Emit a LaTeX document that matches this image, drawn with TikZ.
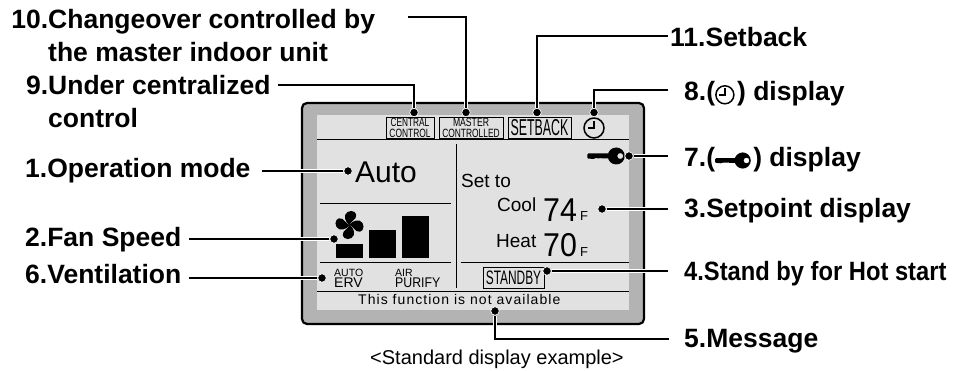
\documentclass[tikz,border=0pt]{standalone}
\usepackage{fontspec}
\setmainfont{Liberation Sans}
\definecolor{panelgrey}{HTML}{B3B3B3}
\definecolor{lcdgrey}{HTML}{E1E1E1}
\tikzset{
	lead/.style={line width=2.4pt, preaction={draw=white, line width=4pt}},
	leaddot/.style={circle, fill=black, draw=white, line width=0.7pt, minimum size=8.5pt, inner sep=0pt},
	lcdline/.style={line width=1pt},
	lcdbox/.style={draw, line width=0.9pt, inner sep=0pt, minimum height=21pt},
	smallbox/.style={lcdbox, align=center, font=\fontsize{12}{11}\selectfont},
	callout/.style={anchor=base west, inner sep=0pt, font=\fontsize{26.5}{33}\selectfont\bfseries},
	calloutwrap/.style={callout, anchor=north west, align=left},
	lcdtext/.style={anchor=base west, inner sep=0pt}
}
\newcommand{\myclockicon}[1]{%
	\tikz[x=1pt, y=-1pt, baseline=-6.2pt, scale=#1]{
		\draw [line width=1.5pt] (0,0) circle (10);
		\draw [line width=1.7pt] (-6,0) -- (0,0) -- (0,-7);
	}%
}
\newcommand{\mykeyicon}[1]{%
	\tikz[x=1pt, y=-1pt, baseline=-6.5pt, scale=#1]{
		\fill [rounded corners=1pt] (0,-2.5) -- (24,-2.5) -- (24,2.5) -- (14,2.5) -- (13,1.5) -- (11,3) -- (9,1.5) -- (7,3) -- (0,2.5) -- cycle;
		\fill [even odd rule] (29,0) circle (8.5) (33,0) circle (3);
	}%
}
\begin{document}
\begin{tikzpicture}[x=1pt, y=-1pt]
	\newcommand{\myfontlcd}[1]{\fontsize{#1}{#1}\selectfont
	}%Page
	\useasboundingbox (0,0) rectangle (953,371);
	%Outer panel and screen
	\draw [line width=2.2pt, rounded corners=5pt, fill=panelgrey] (302,103) rectangle (644,324);
	\fill [lcdgrey] (317,115) rectangle (629,310);
	%Lines of the screen
	\draw [lcdline] (317,140) -- (629,140);
	\draw [lcdline] (317,292) -- (629,292);
	\draw [lcdline] (456,144) -- (456,288);
	\draw [lcdline] (320,204) -- (451,204);
	\draw [lcdline] (320,263) -- (451,263);
	\draw [lcdline] (461,263) -- (629,263);
	%Top row
	\node [smallbox, minimum width=48pt] (boxCentral) at (410,127.5) {\scalebox{0.69}[1]{CENTRAL}\\\scalebox{0.7}[1]{CONTROL}};
	\node [smallbox, minimum width=64pt] (boxMaster) at (471,127.5) {\scalebox{0.72}[1]{MASTER}\\\scalebox{0.7}[1]{CONTROLLED}};
	\node [lcdbox, minimum width=63pt] (boxSetback) at (539.5,127.5) {\myfontlcd{23}\scalebox{0.54}[1]{SETBACK}};
	\node [inner sep=0pt] (iconClock) at (594,128) {\myclockicon{1}};
	\node [inner sep=0pt] (iconKey) at (606,156) {\mykeyicon{1}};
	%Left half
	\node [lcdtext] (textAuto) at (355,183) {\myfontlcd{30}Auto};
	\fill (336,244) rectangle (363,258);
	\fill (369,230) rectangle (396,258);
	\fill (402,216) rectangle (429,258);
	%Fan blades
	\foreach \angle in {0,90,180,270} {
		\fill [rotate around={\angle:(349.5,225)}, shift={(349.5,225)}] (0,0) .. controls (-4,-2) and (-7,-10) .. (-2,-13) .. controls (3,-16) and (9,-12) .. (6,-7) .. controls (5,-5) and (2,-4) .. (0,0);
	}
	\node [lcdtext] (textAuto2) at (334,276.5) {\myfontlcd{10.5}AUTO};
	\node [lcdtext] (textErv) at (334,288) {\myfontlcd{14}ERV};
	\node [lcdtext] (textAir) at (395,276.5) {\myfontlcd{10.5}AIR};
	\node [lcdtext] (textPurify) at (395,288) {\myfontlcd{14}\scalebox{0.88}[1]{PURIFY}};
	%Right half
	\node [lcdtext] (textSetTo) at (461,188) {\myfontlcd{19}Set to};
	\node [lcdtext] (textCool) at (497,212) {\myfontlcd{19}Cool};
	\node [lcdtext] (textCoolVal) at (543,222) {\myfontlcd{33}\scalebox{0.92}[1]{74}};
	\node [lcdtext] (textCoolUnit) at (580,221) {\myfontlcd{13}F};
	\node [lcdtext] (textHeat) at (496,248) {\myfontlcd{19}Heat};
	\node [lcdtext] (textHeatVal) at (543,257) {\myfontlcd{33}\scalebox{0.92}[1]{70}};
	\node [lcdtext] (textHeatUnit) at (580,257) {\myfontlcd{13}F};
	\node [lcdbox, minimum width=61pt] (boxStandby) at (513.5,277.5) {\myfontlcd{19.5}\scalebox{0.61}[1]{STANDBY}};
	%Message row and caption
	\node [lcdtext] (textMessage) at (358,305) {\myfontlcd{14}\addfontfeatures{LetterSpace=7.5}This function is not available};
	\node [lcdtext] (textCaption) at (370,364) {\myfontlcd{20}<Standard display example>};
	%Callout texts on the left
	\node [calloutwrap] (labelMaster) at (48,9) {\llap{10.}Changeover controlled by\\the master indoor unit};
	\node [calloutwrap] (labelCentral) at (48,75) {\llap{9.}Under centralized\\control};
	\node [callout] (labelMode) at (25,178) {1.Operation mode};
	\node [callout] (labelFan) at (25,247) {2.Fan Speed};
	\node [callout] (labelVent) at (25,284) {6.Ventilation};
	%Callout texts on the right
	\node [callout] (labelSetback) at (670,47) {11.Setback};
	\node [callout] (labelClock) at (684,101) {8.(\myclockicon{0.9}\hspace{2.5pt}) display};
	\node [callout] (labelKey) at (684,167) {7.(\mykeyicon{0.95}\hspace{2.5pt}) display};
	\node [callout] (labelSetpoint) at (684,218) {3.Setpoint display};
	\node [callout] (labelStandby) at (684,281) {\scalebox{0.895}[1]{4.Stand by for Hot start}};
	\node [callout] (labelMessage) at (684,347) {5.Message};
	%Dots at the end of the leads
	\node [leaddot] (dotCentral) at (414,112.5) {};
	\node [leaddot] (dotMaster) at (466,112.5) {};
	\node [leaddot] (dotSetback) at (537,112.5) {};
	\node [leaddot] (dotClock) at (594,112.5) {};
	\node [leaddot] (dotKey) at (629,156) {};
	\node [leaddot] (dotMode) at (348,171) {};
	\node [leaddot] (dotSetpoint) at (602,209) {};
	\node [leaddot] (dotStandby) at (547,271) {};
	\node [leaddot] (dotMessage) at (495,311) {};
	\node [leaddot] (dotFan) at (334,239) {};
	\node [leaddot] (dotVent) at (322,278) {};
	%Free ends of the leads
	\coordinate (startMaster) at (408,17);
	\coordinate (startSetback) at (668,36);
	\coordinate (startCentral) at (278,85);
	\coordinate (startClock) at (668,90);
	\coordinate (startKey) at (668,156);
	\coordinate (startMode) at (262,171);
	\coordinate (startSetpoint) at (668,209);
	\coordinate (startStandby) at (668,271);
	\coordinate (startMessage) at (669,339);
	\coordinate (startFan) at (189,239);
	\coordinate (startVent) at (189,278);
	%Leads
	\draw [lead] (startMaster) -| (dotMaster);
	\draw [lead] (startSetback) -| (dotSetback);
	\draw [lead] (startCentral) -| (dotCentral);
	\draw [lead] (startClock) -| (dotClock);
	\draw [lead] (startKey) -- (dotKey);
	\draw [lead] (startMode) -- (dotMode);
	\draw [lead] (startSetpoint) -- (dotSetpoint);
	\draw [lead] (startStandby) -- (dotStandby);
	\draw [lead] (startMessage) -| (dotMessage);
	\draw [lead] (startFan) -- (dotFan);
	\draw [lead] (startVent) -- (dotVent);
	\end{tikzpicture}
\end{document}
